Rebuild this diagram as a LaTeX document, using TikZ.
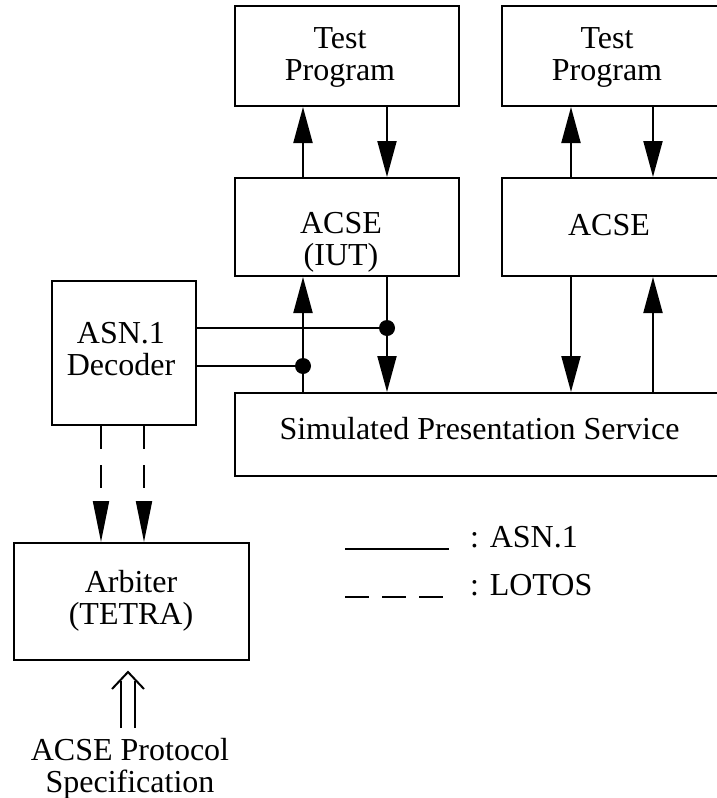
\documentclass[tikz,border=0pt]{standalone}
\usepackage{fontspec}
\setmainfont{Liberation Serif}
\usetikzlibrary{arrows.meta}
\begin{document}
\begin{tikzpicture}[x=1pt,y=-1pt,
  box/.style 2 args={draw, line width=2pt, minimum width=#1, minimum height=#2, inner sep=0pt},
  txt/.style={font=\fontsize{32}{32}\selectfont, inner sep=0pt, align=center},
  ln/.style={line width=2pt},
  arr/.style={line width=2pt, -{Triangle[length=36pt,width=19pt]}},
  darr/.style={line width=2pt, dash pattern=on 23pt off 16pt, -{Triangle[length=41pt,width=16pt]}}]
\useasboundingbox (0,0) rectangle (717,798);
\clip (0,0) rectangle (717,798);
% boxes
\node[box={224pt}{100pt}] (tp1) at (347,56) {};
\node[box={224pt}{100pt}] (tp2) at (614,56) {};
\node[box={224pt}{98pt}] (ac1) at (347,227) {};
\node[box={224pt}{98pt}] (ac2) at (614,227) {};
\node[box={144pt}{144pt}] (dec) at (124,353) {};
\node[box={491pt}{83pt}] (ps) at (480.5,434.5) {};
\node[box={235pt}{117pt}] (arb) at (131.5,601.5) {};
% texts
\node[txt] (tp1t) at (340,57) {Test\\Program};
\node[txt] (tp2t) at (607,57) {Test\\Program};
\node[txt] (ac1t) at (341,242) {ACSE\\(IUT)};
\node[txt, anchor=base] (ac2t) at (609,235) {ACSE};
\node[txt] (dect) at (121,349.5) {ASN.1\\Decoder};
\node[txt, anchor=base] (pst) at (479.5,439) {Simulated Presentation Service};
\node[txt] (arbt) at (131,600.5) {Arbiter\\(TETRA)};
\node[txt] (spec) at (130,768.5) {ACSE Protocol\\Specification};
\node[txt, anchor=base west] (l1) at (470,547) {: ASN.1};
\node[txt, anchor=base west] (l2) at (470,595) {: LOTOS};
% columns
\coordinate (cA) at (303,0);
\coordinate (cB) at (387,0);
\coordinate (cC) at (571,0);
\coordinate (cD) at (653,0);
\coordinate (cE) at (101,0);
\coordinate (cF) at (144,0);
% top arrows
\draw[arr] (ac1.north -| cA) -- (tp1.south -| cA);
\draw[arr] (tp1.south -| cB) -- (ac1.north -| cB);
\draw[arr] (ac2.north -| cC) -- (tp2.south -| cC);
\draw[arr] (tp2.south -| cD) -- (ac2.north -| cD);
% bottom arrows
\draw[arr] (ps.north -| cA) -- (ac1.south -| cA);
\draw[arr] (ac1.south -| cB) -- (ps.north -| cB);
\draw[arr] (ac2.south -| cC) -- (ps.north -| cC);
\draw[arr] (ps.north -| cD) -- (ac2.south -| cD);
% decoder taps
\coordinate (j1) at (387,328);
\coordinate (j2) at (303,366);
\draw[ln] (dec.east |- j1) -- (j1);
\draw[ln] (dec.east |- j2) -- (j2);
\fill (j1) circle (8pt);
\fill (j2) circle (8pt);
% dashed arrows
\draw[darr] (dec.south -| cE) -- (arb.north -| cE);
\draw[darr] (dec.south -| cF) -- (arb.north -| cF);
% legend
\coordinate (s1) at (345,549);
\coordinate (s2) at (449,549);
\coordinate (d1) at (345,597);
\coordinate (d2) at (443,597);
\draw[ln] (s1) -- (s2);
\draw[ln, dash pattern=on 24pt off 13pt] (d1) -- (d2);
% double arrow
\coordinate (q1) at (121,728);
\coordinate (q2) at (135,728);
\coordinate (q1t) at (121,681);
\coordinate (q2t) at (135,681);
\coordinate (qa) at (128,672);
\coordinate (ql) at (112,689);
\coordinate (qr) at (144,689);
\draw[ln] (q1) -- (q1t);
\draw[ln] (q2) -- (q2t);
\draw[ln, line join=miter] (ql) -- (qa) -- (qr);
\end{tikzpicture}
\end{document}
